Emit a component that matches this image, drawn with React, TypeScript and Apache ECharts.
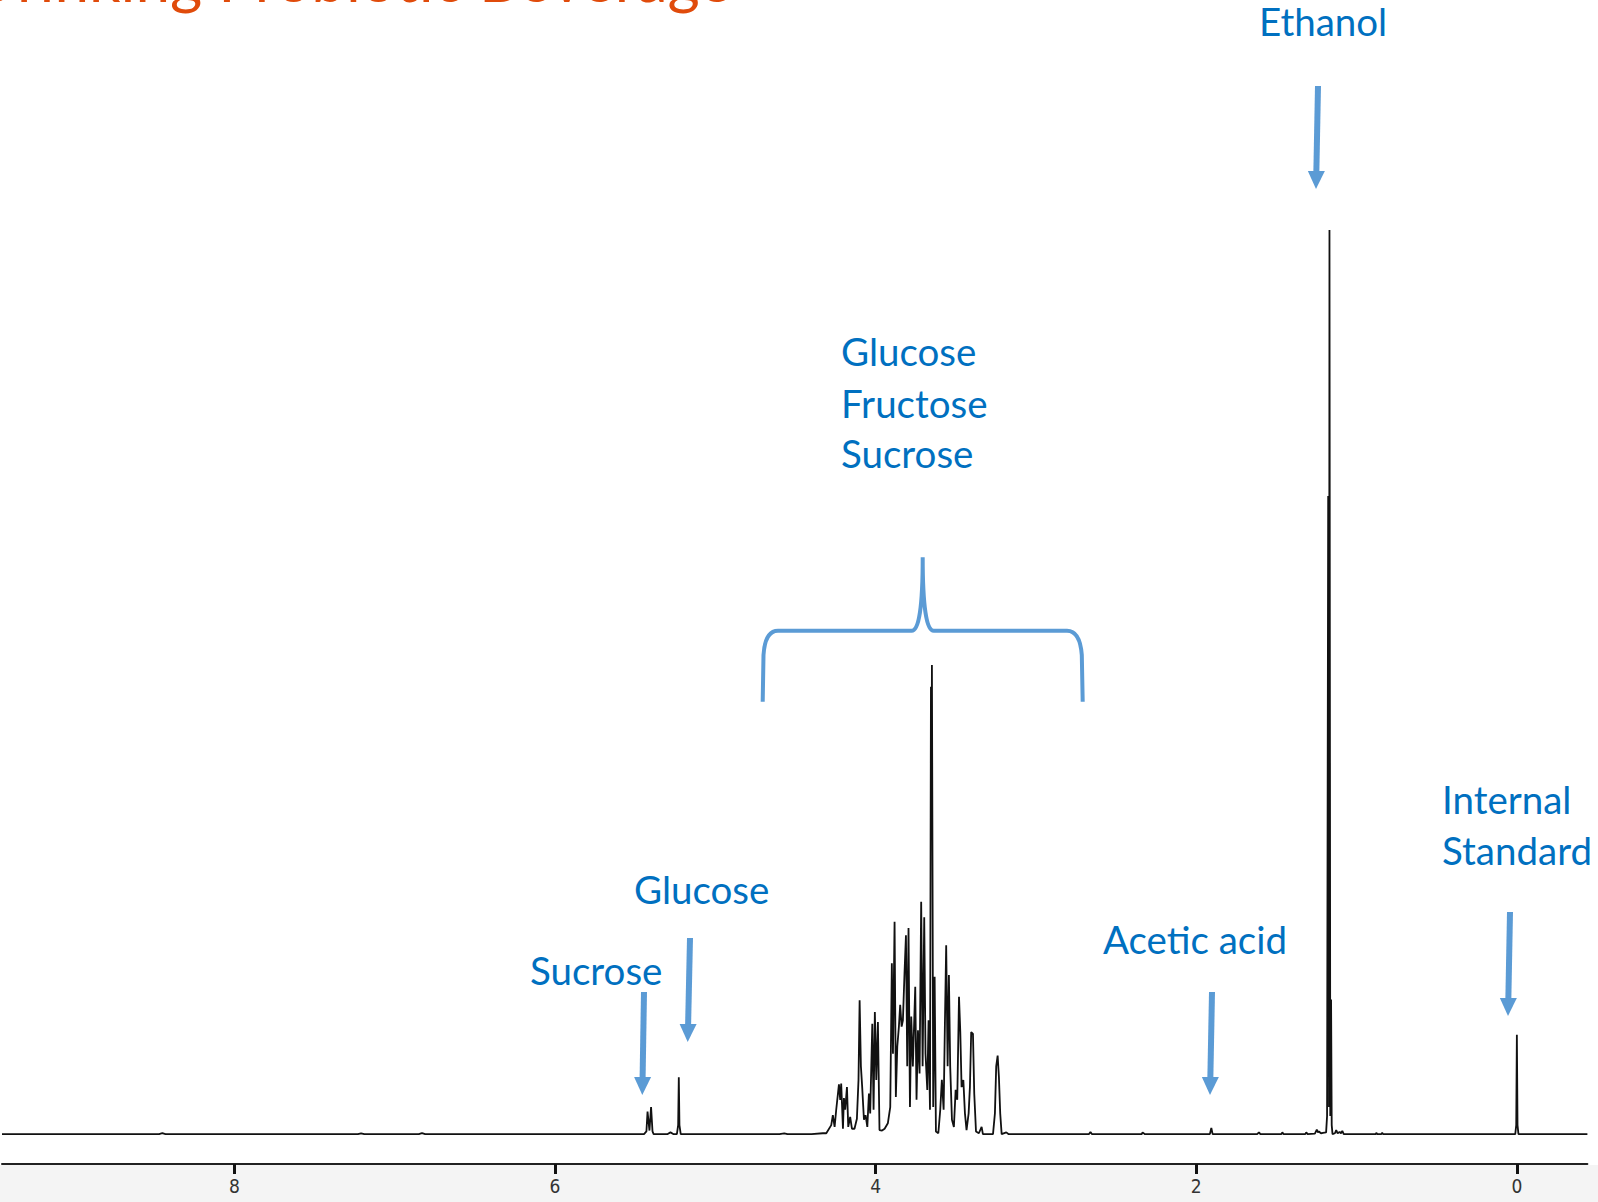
import React, { useEffect, useRef } from "react";
import * as echarts from "echarts";

// x-axis (chemical shift, ppm) tick values
const xTickValues: number[] = [0, 2, 4, 6, 8];

// spectrum trace, [ppm, intensity] (ethanol CH3 = 100), ordered high ppm -> low ppm
const downfieldBaseline: [number, number][] = [
  [9.45, 0], [8.47, 0], [8.45, 0.12], [8.43, 0], [7.23, 0], [7.21, 0.1], [7.19, 0],
  [6.85, 0], [6.83, 0.12], [6.81, 0], [5.445, 0],
];
const sucroseAnomeric: [number, number][] = [
  [5.43, 0.3], [5.423, 2.5], [5.411, 0.4], [5.401, 3.0], [5.392, 0.3], [5.385, 0],
];
const glucoseAnomeric: [number, number][] = [
  [5.3, 0], [5.28, 0.2], [5.26, 0], [5.24, 0], [5.232, 1.0], [5.228, 6.3], [5.224, 1.0],
  [5.216, 0], [4.6, 0], [4.57, 0.1], [4.55, 0], [4.4, 0], [4.33, 0.1],
];
const sugarCluster: [number, number][] = [
  [4.308, 0.1], [4.277, 1.0], [4.267, 2.1], [4.256, 0.8], [4.246, 2.7], [4.229, 5.5],
  [4.221, 3.8], [4.215, 5.6], [4.204, 0.6], [4.198, 4.0], [4.19, 2.7], [4.179, 5.2],
  [4.171, 0.8], [4.159, 1.9], [4.148, 0.6], [4.132, 0.6], [4.117, 1.7], [4.107, 6.0],
  [4.1, 14.8], [4.092, 7.5], [4.084, 5.2], [4.073, 1.6], [4.063, 2.1], [4.052, 0.8],
  [4.042, 4.5], [4.034, 2.3], [4.021, 12.2], [4.013, 2.7], [4.005, 13.5], [3.996, 6.0],
  [3.986, 12.4], [3.976, 0.45], [3.96, 0.4], [3.944, 0.6], [3.924, 1.2], [3.909, 3.0],
  [3.899, 18.9], [3.892, 8.9], [3.882, 23.5], [3.874, 4.1], [3.865, 9.7], [3.855, 11.9],
  [3.847, 14.3], [3.838, 11.9], [3.83, 12.6], [3.82, 17.8], [3.811, 22.0], [3.803, 7.5],
  [3.795, 22.8], [3.786, 3.0], [3.778, 13.0], [3.768, 7.5], [3.753, 16.3], [3.745, 3.8],
  [3.736, 11.5], [3.726, 6.7], [3.716, 25.7], [3.707, 7.5], [3.697, 24.0], [3.689, 8.9],
  [3.678, 4.9], [3.67, 12.6], [3.661, 2.7], [3.655, 49.5], [3.652, 35.0], [3.649, 51.9],
  [3.641, 3.0], [3.632, 17.4], [3.624, 0.3], [3.609, 0.1], [3.597, 2.7], [3.587, 6.0],
  [3.576, 2.7], [3.568, 12.2], [3.56, 20.9], [3.551, 7.5], [3.543, 17.6], [3.535, 7.5],
  [3.524, 1.6], [3.512, 0.8], [3.501, 4.9], [3.491, 3.8], [3.48, 15.2], [3.472, 11.3],
  [3.464, 5.2], [3.453, 6.0], [3.443, 2.3], [3.433, 0.45], [3.42, 2.3], [3.412, 5.2],
  [3.404, 11.3], [3.393, 11.1], [3.385, 4.5], [3.374, 0.3], [3.356, 0.1], [3.339, 0.8],
  [3.331, 0], [3.268, 0], [3.256, 2.3], [3.248, 7.5], [3.239, 8.7], [3.231, 6.3],
  [3.223, 2.3], [3.214, 0], [3.185, 0.2], [3.17, 0],
];
const aliphaticRegion: [number, number][] = [
  [2.67, 0], [2.66, 0.25], [2.65, 0], [2.34, 0], [2.335, 0.2], [2.32, 0],
  [1.915, 0], [1.906, 0.7], [1.898, 0], [1.62, 0], [1.609, 0.2], [1.6, 0],
  [1.47, 0], [1.463, 0.2], [1.455, 0], [1.32, 0], [1.314, 0.2], [1.305, 0],
  [1.26, 0.05], [1.248, 0.5], [1.241, 0.2], [1.235, 0.3], [1.222, 0.1], [1.21, 0.15],
  [1.19, 0.2],
];
const ethanolTriplet: [number, number][] = [
  [1.184, 2.0], [1.177, 70.6], [1.174, 46.0], [1.172, 3.0], [1.169, 100.0], [1.164, 2.0],
  [1.159, 14.9], [1.155, 1.0], [1.15, 0], [1.135, 0.1], [1.127, 0.45], [1.118, 0.1],
  [1.106, 0.25], [1.097, 0.1], [1.089, 0.37], [1.08, 0], [0.88, 0], [0.877, 0.15],
  [0.87, 0], [0.845, 0], [0.84, 0.15], [0.835, 0],
];
const internalStandard: [number, number][] = [
  [0.01, 0], [0.004, 1.0], [0.0, 11.0], [-0.004, 1.0], [-0.01, 0], [-0.44, 0],
];

const spectrum: [number, number][] = [
  ...downfieldBaseline, ...sucroseAnomeric, ...glucoseAnomeric, ...sugarCluster,
  ...aliphaticRegion, ...ethanolTriplet, ...internalStandard,
];

const TEXT_BLUE = "#0070C0";
const ARROW_BLUE = "#5B9BD5";
const FONT = "Lato, 'Open Sans', sans-serif";
const LABEL_SIZE = 38.5;

const BRACE_D =
  "M762.7 701.7 L763.5 655 Q765 630.7 778 630.7 L911.7 630.7 Q922.7 630.7 922.7 557.3 " +
  "Q922.7 630.7 933.7 630.7 L1067 630.7 Q1080 630.7 1081.8 655 L1082.7 701.7";

let braceRegistered = false;
function registerBrace() {
  if (braceRegistered) return;
  echarts.graphic.registerShape("brace", echarts.graphic.extendPath(BRACE_D, {}) as any);
  braceRegistered = true;
}

function arrow(x1: number, y1: number, x2: number, y2: number): any[] {
  const headLen = 18;
  const half = 8.5;
  const t = headLen / (y2 - y1);
  const bx = x2 + (x1 - x2) * t;
  const by = y2 - headLen;
  return [
    {
      type: "line",
      shape: { x1, y1, x2: bx, y2: by + 1 },
      style: { stroke: ARROW_BLUE, lineWidth: 6 },
      z: 10,
    },
    {
      type: "polygon",
      shape: { points: [[bx - half, by], [bx + half, by], [x2, y2]] },
      style: { fill: ARROW_BLUE },
      z: 10,
    },
  ];
}

function label(text: string, x: number, yMid: number, size = LABEL_SIZE, color = TEXT_BLUE, align = "left"): any {
  return {
    type: "text",
    z: 10,
    style: {
      text,
      x,
      y: yMid,
      fill: color,
      fontSize: size,
      fontFamily: FONT,
      align,
      verticalAlign: "middle",
    },
  };
}

export default function App() {
  const ref = useRef<HTMLDivElement>(null);

  useEffect(() => {
    if (!ref.current) return;
    registerBrace();
    const chart = echarts.init(ref.current, null, { renderer: "svg" });
    chart.setOption({
      animation: false,
      backgroundColor: "transparent",
      grid: { left: 2, right: 10.6, top: 212, bottom: 38, containLabel: false },
      xAxis: {
        type: "value",
        min: -0.44,
        max: 9.45,
        inverse: true,
        axisLine: { show: true, onZero: false, lineStyle: { color: "#222", width: 2 } },
        axisTick: {
          show: true,
          customValues: xTickValues,
          length: 10,
          lineStyle: { color: "#111", width: 3 },
        },
        axisLabel: {
          customValues: xTickValues,
          fontSize: 19,
          color: "#333",
          margin: 12,
          fontFamily: "'Liberation Sans Narrow', 'DejaVu Sans Condensed', Roboto, sans-serif",
        },
        splitLine: { show: false },
      },
      yAxis: { type: "value", min: -3.3, max: 102, show: false },
      series: [
        {
          type: "line",
          data: spectrum,
          showSymbol: false,
          silent: true,
          lineStyle: { color: "#111", width: 1.8 },
        },
      ],
      graphic: [
        label("Drinking Probiotic Beverage", 732, -22, 62, "#E04B0B", "right"),
        label("Ethanol", 1259, 21),
        ...arrow(1318, 86, 1316, 189),
        label("Glucose", 841, 350.5),
        label("Fructose", 841, 403),
        label("Sucrose", 841, 453),
        {
          type: "brace",
          x: 0,
          y: 0,
          z: 10,
          style: { fill: "none", stroke: ARROW_BLUE, lineWidth: 4 },
        },
        label("Glucose", 634, 888.5),
        ...arrow(690, 938, 687.7, 1042),
        label("Sucrose", 530, 970),
        ...arrow(644, 992, 642.3, 1095),
        label("Acetic acid", 1103, 939),
        ...arrow(1212, 992, 1210, 1095),
        label("Internal", 1442, 799),
        label("Standard", 1442, 850),
        ...arrow(1510, 912, 1508, 1016),
      ],
    });
    return () => chart.dispose();
  }, []);

  return (
    <div
      style={{
        position: "absolute",
        left: 0,
        top: 0,
        width: 1598,
        height: 1202,
        background: "#fff",
        overflow: "hidden",
      }}
    >
      <div
        style={{
          position: "absolute",
          left: 0,
          top: 1165,
          width: 1598,
          height: 37,
          background: "#F4F4F4",
        }}
      />
      <div ref={ref} style={{ position: "absolute", left: 0, top: 0, width: 1598, height: 1202 }} />
    </div>
  );
}
